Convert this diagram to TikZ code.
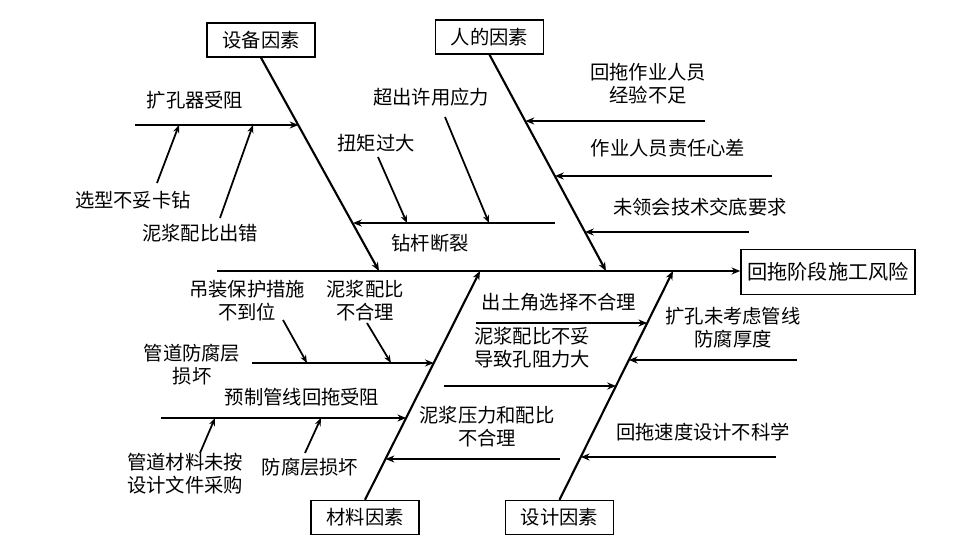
\documentclass[tikz,border=0pt]{standalone}
\usepackage{fontspec}
\setmainfont{Noto Sans CJK SC}
\usetikzlibrary{arrows.meta}

\begin{document}
\begin{tikzpicture}[x=0.02cm,y=-0.02cm,
  box/.style={draw,line width=.8pt,minimum width=2.16cm,minimum height=.68cm,inner sep=0pt,font=\fontsize{11}{13}\selectfont},
  lab/.style={align=center,font=\fontsize{11}{13}\selectfont},
  bone/.style={line width=1.2pt,-{Stealth[length=5pt,width=4pt]}},
  twig/.style={line width=1pt,-{Stealth[length=4.5pt,width=3.5pt]}}]
\useasboundingbox (0,0) rectangle (958,547);
% the boxes
\node[box] (f1) at (261,40) {设备因素};
\node[box] (f2) at (489.5,37) {人的因素};
\node[box] (f3) at (365,517.5) {材料因素};
\node[box] (f4) at (559.5,517.5) {设计因素};
\node[box,minimum width=3.48cm,minimum height=.9cm,font=\fontsize{11.5}{14}\selectfont] (r) at (828,272) {回拖阶段施工风险};
% spine and bones
\coordinate (s0) at (217,271);
\coordinate (j1) at (379,271);
\coordinate (j2) at (606,271);
\coordinate (j3) at (480,271);
\coordinate (j4) at (673,271);
\draw[bone] (s0) -- (r.west |- s0);
\draw[bone] (f1.south) -- (j1);
\draw[bone] (f2.south) -- (j2);
\draw[bone] (f3.north) -- (j3);
\draw[bone] (f4.north) -- (j4);
% 设备因素
%     扩孔器受阻
\coordinate (a0) at (135,125);
\coordinate (a1) at (298.5,125);
\coordinate (a2) at (179,125);
\coordinate (a3) at (253,125);
\coordinate (a4) at (157,183);
\coordinate (a5) at (220,218);
\draw[bone] (a0) -- (a1);
\draw[twig] (a4) -- (a2);
\draw[twig] (a5) -- (a3);
\node[lab] (t1) at (195,100) {扩孔器受阻};
\node[lab] (t2) at (133,200) {选型不妥卡钻};
\node[lab] (t3) at (200,233) {泥浆配比出错};
%     钻杆断裂
\coordinate (b0) at (555,223);
\coordinate (b1) at (353,223);
\coordinate (b2) at (407,223);
\coordinate (b3) at (489,223);
\coordinate (b4) at (378,157);
\coordinate (b5) at (445,117);
\draw[bone] (b0) -- (b1);
\draw[twig] (b4) -- (b2);
\draw[twig] (b5) -- (b3);
\node[lab] (t4) at (430,243) {钻杆断裂};
\node[lab] (t5) at (376,143) {扭矩过大};
\node[lab] (t6) at (431,97) {超出许用应力};
% 人的因素
\coordinate (c0) at (705,121);
\coordinate (c1) at (525.5,121);
\coordinate (c2) at (772,176);
\coordinate (c3) at (555,176);
\coordinate (c4) at (749,232);
\coordinate (c5) at (585,232);
\draw[bone] (c0) -- (c1);
\draw[bone] (c2) -- (c3);
\draw[bone] (c4) -- (c5);
\node[lab] (t7) at (648,84) {回拖作业人员\\经验不足};
\node[lab] (t8) at (668,148) {作业人员责任心差};
\node[lab] (t9) at (700,207) {未领会技术交底要求};
% 材料因素
%     管道防腐层损坏
\coordinate (d0) at (252,363);
\coordinate (d1) at (433.8,363);
\coordinate (d2) at (307,363);
\coordinate (d3) at (391,363);
\coordinate (d4) at (283,320);
\coordinate (d5) at (367,323);
\draw[bone] (d0) -- (d1);
\draw[twig] (d4) -- (d2);
\draw[twig] (d5) -- (d3);
\node[lab] (t10) at (192,365) {管道防腐层\\损坏};
\node[lab] (t11) at (247,301) {吊装保护措施\\不到位};
\node[lab] (t12) at (365,301) {泥浆配比\\不合理};
%     预制管线回拖受阻
\coordinate (e0) at (161,418);
\coordinate (e1) at (406.2,418);
\coordinate (e2) at (215,418);
\coordinate (e3) at (321,418);
\coordinate (e4) at (200,453);
\coordinate (e5) at (305,453);
\draw[bone] (e0) -- (e1);
\draw[twig] (e4) -- (e2);
\draw[twig] (e5) -- (e3);
\node[lab] (t13) at (302,397) {预制管线回拖受阻};
\node[lab] (t14) at (185,474) {管道材料未按\\设计文件采购};
\node[lab] (t15) at (310,467) {防腐层损坏};
%     泥浆压力和配比
\coordinate (g0) at (560,459);
\coordinate (g1) at (385.6,459);
\draw[bone] (g0) -- (g1);
\node[lab] (t16) at (487,427) {泥浆压力和配比\\不合理};
% 设计因素
\coordinate (h0) at (476,323);
\coordinate (h1) at (647.2,323);
\coordinate (h2) at (444,386);
\coordinate (h3) at (616,386);
\coordinate (h4) at (797,360);
\coordinate (h5) at (628.9,360);
\coordinate (h6) at (776,457);
\coordinate (h7) at (580.8,457);
\draw[bone] (h0) -- (h1);
\draw[bone] (h2) -- (h3);
\draw[bone] (h4) -- (h5);
\draw[bone] (h6) -- (h7);
\node[lab] (t17) at (559,302) {出土角选择不合理};
\node[lab] (t18) at (532,348) {泥浆配比不妥\\导致孔阻力大};
\node[lab] (t19) at (733,328) {扩孔未考虑管线\\防腐厚度};
\node[lab] (t20) at (703,432) {回拖速度设计不科学};
\end{tikzpicture}
\end{document}
